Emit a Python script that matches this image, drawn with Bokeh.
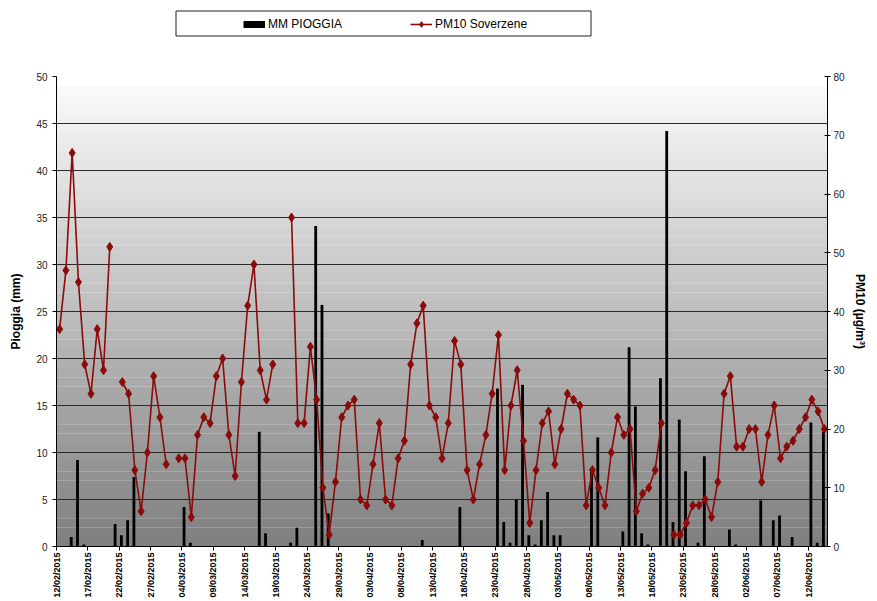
import math
from bokeh.plotting import figure
from bokeh.layouts import column
from bokeh.models import (Range1d, LinearAxis, FixedTicker, ColumnDataSource,
                          Legend, LegendItem)
from bokeh.transform import dodge
from bokeh.embed import file_html
from bokeh.resources import INLINE

# ---------------- data ----------------
N_DAYS = 123  # 12/02/2015 .. 14/06/2015
TICK_POS = list(range(0, 121, 5))
TICK_LABELS = ["12/02/2015", "17/02/2015", "22/02/2015", "27/02/2015", "04/03/2015",
               "09/03/2015", "14/03/2015", "19/03/2015", "24/03/2015", "29/03/2015",
               "03/04/2015", "08/04/2015", "13/04/2015", "18/04/2015", "23/04/2015",
               "28/04/2015", "03/05/2015", "08/05/2015", "13/05/2015", "18/05/2015",
               "23/05/2015", "28/05/2015", "02/06/2015", "07/06/2015", "12/06/2015"]

RAIN_DAY = [2, 3, 4, 9, 10, 11, 12, 20, 21, 32, 33, 37, 38, 41, 42, 43, 58, 64,
            70, 71, 72, 73, 74, 75, 76, 77, 78, 79, 80, 85, 86, 90, 91, 92, 93, 94,
            96, 97, 98, 99, 100, 102, 103, 107, 108, 112, 114, 115, 117, 120, 121, 122]
RAIN_MM = [1.0, 9.2, 0.2, 2.4, 1.2, 2.8, 7.4, 4.2, 0.4, 12.2, 1.4, 0.4, 2.0, 34.1, 25.7, 3.5, 0.7, 4.2,
           16.8, 2.6, 0.4, 5.0, 17.2, 1.2, 0.2, 2.8, 5.8, 1.2, 1.2, 8.4, 11.6, 1.6, 21.2, 14.9, 1.4, 0.2,
           17.9, 44.2, 2.6, 13.5, 8.0, 0.4, 9.6, 1.8, 0.2, 4.9, 2.8, 3.3, 1.0, 13.2, 0.4, 12.2]

NA = float("nan")
PM10 = [37, 47, 67, 45, 31, 26, 37, 30, 51, NA,
        28, 26, 13, 6, 16, 29, 22, 14, NA, 15,
        15, 5, 19, 22, 21, 29, 32, 19, 12, 28,
        41, 48, 30, 25, 31, NA, NA, 56, 21, 21,
        34, 25, 10, 2, 11, 22, 24, 25, 8, 7,
        14, 21, 8, 7, 15, 18, 31, 38, 41, 24,
        22, 15, 21, 35, 31, 13, 8, 14, 19, 26,
        36, 13, 24, 30, 18, 4, 13, 21, 23, 14,
        20, 26, 25, 24, 7, 13, 10, 7, 16, 22,
        19, 20, 6, 9, 10, 13, 21, NA, 2, 2,
        4, 7, 7, 8, 5, 11, 26, 29, 17, 17,
        20, 20, 11, 19, 24, 15, 17, 18, 20, 22,
        25, 23, 20]

SERIES_RAIN = "MM PIOGGIA"
SERIES_PM = "PM10 Soverzene"

RED = "#8B0A0A"
FONT = "Liberation Sans"
W = 877
TOP_H = 40
FRAME_L, FRAME_R = 56, 827   # main frame edges (page px); column aligns both frames

# ---------------- legend strip ----------------
top = figure(width=W, height=TOP_H, x_range=Range1d(FRAME_L, FRAME_R), y_range=Range1d(0, TOP_H),
             output_backend="svg", toolbar_location=None,
             x_axis_location=None, y_axis_location=None,
             min_border=0, min_border_left=0, min_border_right=0,
             min_border_top=0, min_border_bottom=0)
top.outline_line_color = None
top.xgrid.grid_line_color = None
top.ygrid.grid_line_color = None
top.border_fill_color = "white"
top.background_fill_color = "white"
# legend frame box (style element)
top.quad(left=[175.5], right=[590.5], bottom=[TOP_H - 35.5], top=[TOP_H - 10.5],
         fill_color="white", line_color="#222222", line_width=1)
# legend swatches: renderers kept outside the visible range
OFF = [0, 1]
lg_rain = top.line(x=OFF, y=OFF, line_color="black", line_width=7)
lg_line = top.line(x=OFF, y=OFF, line_color=RED, line_width=1.6)
lg_pts = top.scatter(x=OFF, y=OFF, marker="diamond", size=9, fill_color=RED, line_color=RED)
legend = Legend(items=[LegendItem(label=SERIES_RAIN, renderers=[lg_rain]),
                       LegendItem(label=SERIES_PM, renderers=[lg_line, lg_pts])],
                orientation="horizontal", location=(243 - FRAME_L, TOP_H - 30.5),
                padding=0, margin=0, spacing=10, label_width=132,
                glyph_width=22, glyph_height=14, label_standoff=3,
                border_line_alpha=0, background_fill_alpha=0,
                label_text_font=FONT, label_text_font_size="12px",
                label_text_color="black", label_height=14)
top.add_layout(legend, "center")

# ---------------- main chart ----------------
p = figure(width=W, height=601 - TOP_H, x_range=Range1d(0, N_DAYS), y_range=Range1d(0, 50),
           output_backend="svg", toolbar_location=None,
           min_border_left=FRAME_L, min_border_right=W - FRAME_R, min_border_top=76 - TOP_H,
           min_border_bottom=55)
p.extra_y_ranges = {"pm": Range1d(0, 80)}
p.outline_line_color = None
p.background_fill_color = "white"
p.border_fill_color = "white"

# gradient background bands (styling)
band_b = list(range(0, 50))
band_t = [b + 1 for b in band_b]
band_c = []
for b in band_b:
    if b >= 49:
        v = 255
    else:
        v = int(round(128 + (249 - 128) * b / 48))
    band_c.append("#%02x%02x%02x" % (v, v, v))
p.quad(left=0, right=N_DAYS, bottom=band_b, top=band_t, fill_color=band_c,
       line_color=None, level="image")

# grid
p.xgrid.grid_line_color = None
p.ygrid.grid_line_color = "#2a2a2a"
p.ygrid.grid_line_width = 1
p.ygrid.ticker = FixedTicker(ticks=list(range(0, 51, 5)))

# bars
rain_src = ColumnDataSource(dict(day=RAIN_DAY, mm=RAIN_MM))
bars = p.vbar(x=dodge("day", 0.35, range=p.x_range), top="mm", width=0.45, bottom=0,
              source=rain_src, fill_color="black", line_color=None)

# PM10 line
pm_src = ColumnDataSource(dict(day=list(range(N_DAYS)), pm=PM10))
line = p.line(x=dodge("day", 0.5, range=p.x_range), y="pm", source=pm_src,
              line_color=RED, line_width=1.6, y_range_name="pm")
pts = p.scatter(x=dodge("day", 0.5, range=p.x_range), y="pm", source=pm_src,
                marker="diamond", size=9, fill_color=RED, line_color=RED,
                y_range_name="pm")

# x axis
xa = p.xaxis[0]
xa.ticker = FixedTicker(ticks=TICK_POS)
xa.major_label_overrides = {t: l for t, l in zip(TICK_POS, TICK_LABELS)}
xa.major_label_orientation = math.pi / 2
xa.major_label_text_font = FONT
xa.major_label_text_font_size = "9px"
xa.major_label_text_font_style = "bold"
xa.major_label_text_color = "black"
xa.major_label_standoff = 2
xa.major_tick_in = 0
xa.major_tick_out = 4
xa.minor_tick_line_color = None
xa.axis_line_color = "black"
xa.major_tick_line_color = "black"

# left axis
ya = p.yaxis[0]
ya.ticker = FixedTicker(ticks=list(range(0, 51, 5)))
ya.axis_label = "Pioggia (mm)"
ya.axis_label_text_font = FONT
ya.axis_label_text_font_size = "12px"
ya.axis_label_text_font_style = "bold"
ya.axis_label_text_color = "black"
ya.axis_label_standoff = 10
ya.major_label_text_font = FONT
ya.major_label_text_font_size = "10px"
ya.major_label_text_color = "#222222"
ya.major_label_standoff = 5
ya.major_tick_in = 0
ya.major_tick_out = 4
ya.minor_tick_line_color = None
ya.axis_line_color = "black"

# right axis
ra = LinearAxis(y_range_name="pm", ticker=FixedTicker(ticks=list(range(0, 81, 10))),
                axis_label="PM10 (µg/m³)")
ra.axis_label_text_font = FONT
ra.axis_label_text_font_size = "12px"
ra.axis_label_text_font_style = "bold"
ra.axis_label_text_color = "black"
ra.axis_label_standoff = 5
ra.major_label_text_font = FONT
ra.major_label_text_font_size = "10px"
ra.major_label_text_color = "#222222"
ra.major_label_standoff = 3
ra.major_tick_in = 3
ra.major_tick_out = 3
ra.minor_tick_line_color = None
ra.axis_line_color = "black"
p.add_layout(ra, "right")

layout = column(top, p, spacing=0)
open("out.html", "w").write(file_html(layout, INLINE))
